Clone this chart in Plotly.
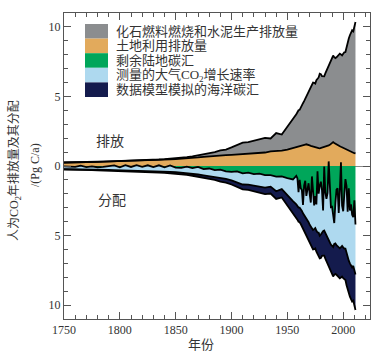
import plotly.graph_objects as go

# ---------------- data (Pg C / a) ----------------
years = [1750, 1755, 1760, 1765, 1770, 1775, 1780, 1785, 1790, 1795,
         1800, 1805, 1810, 1815, 1820, 1825, 1830, 1835, 1840, 1845,
         1850, 1855, 1860, 1865, 1870, 1875, 1880, 1885, 1890, 1895,
         1900, 1905, 1910, 1915, 1920, 1925, 1930, 1935, 1940, 1945,
         1950, 1955,
         1958, 1959, 1960, 1961, 1962, 1963, 1964, 1965, 1966, 1967,
         1968, 1969, 1970, 1971, 1972, 1973, 1974, 1975, 1976, 1977,
         1978, 1979, 1980, 1981, 1982, 1983, 1984, 1985, 1986, 1987,
         1988, 1989, 1990, 1991, 1992, 1993, 1994, 1995, 1996, 1997,
         1998, 1999, 2000, 2001, 2002, 2003, 2004, 2005, 2006, 2007,
         2008, 2009, 2010, 2011]

fossil = [0.003, 0.003, 0.003, 0.003, 0.004, 0.004, 0.005, 0.006, 0.007, 0.007,
          0.008, 0.009, 0.010, 0.012, 0.014, 0.017, 0.024, 0.027, 0.033, 0.042,
          0.054, 0.070, 0.091, 0.116, 0.147, 0.188, 0.236, 0.264, 0.356, 0.405,
          0.534, 0.663, 0.819, 0.836, 0.932, 0.983, 1.053, 0.929, 1.299, 1.160,
          1.630, 2.043,
          2.330, 2.454, 2.569, 2.580, 2.686, 2.833, 2.995, 3.130, 3.288, 3.393,
          3.566, 3.780, 4.053, 4.208, 4.376, 4.614, 4.623, 4.596, 4.864, 5.026,
          5.087, 5.369, 5.315, 5.152, 5.113, 5.094, 5.280, 5.439, 5.607, 5.752,
          5.965, 6.097, 6.127, 6.217, 6.164, 6.162, 6.266, 6.398, 6.542, 6.651,
          6.643, 6.610, 6.765, 6.927, 6.996, 7.416, 7.807, 8.093, 8.370, 8.566,
          8.783, 8.740, 9.167, 9.450]

land_use = [0.25, 0.25, 0.26, 0.27, 0.28, 0.29, 0.30, 0.31, 0.32, 0.33,
            0.34, 0.35, 0.36, 0.37, 0.38, 0.40, 0.42, 0.44, 0.46, 0.48,
            0.50, 0.52, 0.55, 0.58, 0.62, 0.66, 0.70, 0.73, 0.76, 0.78,
            0.80, 0.83, 0.86, 0.88, 0.90, 0.93, 0.97, 1.05, 1.07, 1.10,
            1.17, 1.30,
            1.38, 1.41, 1.44, 1.46, 1.48, 1.50, 1.52, 1.53, 1.54, 1.56,
            1.55, 1.52, 1.48, 1.45, 1.42, 1.39, 1.36, 1.33, 1.30, 1.29,
            1.28, 1.27, 1.29, 1.31, 1.33, 1.35, 1.38, 1.41, 1.44, 1.48,
            1.52, 1.58, 1.65, 1.72, 1.66, 1.60, 1.55, 1.50, 1.45, 1.42,
            1.38, 1.34, 1.30, 1.25, 1.20, 1.15, 1.10, 1.07, 1.03, 1.00,
            0.97, 0.94, 0.92, 0.90]

land_sink = [0.03, 0.06, 0.07, -0.02, 0.08, 0.03, 0.09, 0.06, 0.03, -0.04,
             0.09, -0.06, 0.07, -0.06, 0.06, -0.05, 0.08, -0.05, 0.10, -0.04,
             0.11, 0.13, 0.05, 0.15, 0.06, 0.22, 0.18, 0.29, 0.26, 0.38,
             0.42, 0.39, 0.53, 0.48, 0.58, 0.55, 0.65, 0.66, 0.77, 0.74,
             0.87, 0.97,
             0.71, 0.88, 1.89, 0.99, 1.59, 1.73, 2.80, 1.42, 1.06, 2.15,
             1.70, 1.24, 2.03, 2.63, 0.75, 2.10, 2.84, 2.16, 2.76, 0.38,
             1.99, 1.42, 1.13, 1.74, 3.19, 0.04, 1.92, 2.37, 1.93, -0.33,
             1.09, 2.96, 2.93, 3.62, 4.10, 2.66, 1.70, 1.60, 3.37, 1.72,
             -0.26, 2.85, 3.25, 2.04, 0.94, 1.47, 3.29, 1.61, 3.20, 2.75,
             3.50, 3.68, 2.47, 4.20]

atmos_growth = [0.20, 0.17, 0.16, 0.26, 0.17, 0.22, 0.18, 0.22, 0.25, 0.33,
                0.21, 0.36, 0.24, 0.38, 0.26, 0.40, 0.28, 0.44, 0.30, 0.46,
                0.33, 0.34, 0.46, 0.40, 0.55, 0.45, 0.56, 0.48, 0.62, 0.55,
                0.62, 0.78, 0.80, 0.86, 0.84, 0.92, 0.90, 0.82, 1.05, 0.92,
                1.25, 1.55,
                2.05, 2.00, 1.10, 2.00, 1.50, 1.50, 0.60, 2.10, 2.60, 1.60,
                2.20, 2.80, 2.20, 1.70, 3.70, 2.50, 1.70, 2.30, 1.90, 4.40,
                2.80, 3.60, 3.80, 3.00, 1.50, 4.60, 2.90, 2.60, 3.20, 5.60,
                4.40, 2.70, 2.80, 2.20, 1.50, 2.90, 4.00, 4.20, 2.50, 4.20,
                6.10, 2.90, 2.60, 3.90, 5.00, 4.80, 3.30, 5.20, 3.80, 4.40,
                3.80, 3.50, 5.10, 3.60]

ocean_sink = [0.02, 0.02, 0.03, 0.03, 0.03, 0.04, 0.04, 0.04, 0.05, 0.05,
              0.05, 0.06, 0.06, 0.06, 0.07, 0.07, 0.08, 0.08, 0.09, 0.10,
              0.11, 0.12, 0.13, 0.15, 0.16, 0.18, 0.20, 0.22, 0.24, 0.26,
              0.29, 0.32, 0.35, 0.38, 0.41, 0.44, 0.47, 0.50, 0.55, 0.60,
              0.68, 0.82,
              0.95, 0.98, 1.02, 1.05, 1.08, 1.10, 1.12, 1.14, 1.17, 1.20,
              1.22, 1.26, 1.30, 1.33, 1.35, 1.40, 1.44, 1.47, 1.50, 1.54,
              1.58, 1.62, 1.68, 1.72, 1.75, 1.80, 1.84, 1.88, 1.92, 1.96,
              2.00, 2.02, 2.05, 2.12, 2.22, 2.20, 2.12, 2.10, 2.12, 2.15,
              2.18, 2.20, 2.22, 2.24, 2.26, 2.30, 2.32, 2.35, 2.40, 2.42,
              2.45, 2.50, 2.52, 2.55]

legend_labels = ["化石燃料燃烧和水泥生产排放量", "土地利用排放量", "剩余陆地碳汇",
                 "测量的大气CO<sub>2</sub>增长速率", "数据模型模拟的海洋碳汇"]
x_ticks = [1750, 1800, 1850, 1900, 1950, 2000]
y_ticks = [-10, -5, 0, 5, 10]
y_ticktext = ["10", "5", "0", "5", "10"]

# ---------------- style ----------------
C_FOSSIL = "#8b8d8f"
C_LUC = "#e2aa5c"
C_LAND = "#00a65a"
C_ATM = "#aed9ef"
C_OCEAN = "#141b4d"
legend_colors = [C_FOSSIL, C_LUC, C_LAND, C_ATM, C_OCEAN]

SERIF = "Liberation Serif, Noto Sans CJK SC, serif"
CJK = "Liberation Serif, Noto Sans CJK SC, sans-serif"
LINE = dict(color="black", width=1.8)

fig = go.Figure()
fig.add_trace(go.Scatter(x=years, y=land_use, stackgroup="up", line=LINE,
                         fillcolor=C_LUC, mode="lines", showlegend=False))
fig.add_trace(go.Scatter(x=years, y=fossil, stackgroup="up", line=LINE,
                         fillcolor=C_FOSSIL, mode="lines", showlegend=False))
fig.add_trace(go.Scatter(x=years, y=[-v for v in land_sink], stackgroup="down", line=LINE,
                         fillcolor=C_LAND, mode="lines", showlegend=False))
fig.add_trace(go.Scatter(x=years, y=[-v for v in atmos_growth], stackgroup="down", line=LINE,
                         fillcolor=C_ATM, mode="lines", showlegend=False))
fig.add_trace(go.Scatter(x=years, y=[-v for v in ocean_sink], stackgroup="down", line=LINE,
                         fillcolor=C_OCEAN, mode="lines", showlegend=False))

W, H = 378, 356
L, R, T, B = 64, 8, 13, 37
pw, ph = W - L - R, H - T - B


def px(xp):
    return (xp - L) / pw


def py(yp):
    return (H - B - yp) / ph


shapes = []
annotations = []
sw_top, sw_h = 24.0, 14.6
for i, (col, lab) in enumerate(zip(legend_colors, legend_labels)):
    y0 = sw_top + i * sw_h
    shapes.append(dict(type="rect", xref="paper", yref="paper",
                       x0=px(85), x1=px(108), y0=py(y0 + sw_h), y1=py(y0),
                       fillcolor=col, line=dict(width=0), layer="above"))
    annotations.append(dict(xref="paper", yref="paper", x=px(114), y=py(y0 + sw_h / 2),
                            xanchor="left", yanchor="middle", showarrow=False, text=lab,
                            font=dict(family=CJK, size=13, color="#333")))


def label(x, y, text, size=13, family=CJK, angle=0):
    return dict(xref="paper", yref="paper", x=px(x), y=py(y), text=text, showarrow=False,
                xanchor="center", yanchor="middle", textangle=angle,
                font=dict(family=family, size=size, color="#333"))


annotations += [
    label(110, 141, "排放", size=14),
    label(112, 200, "分配", size=14),
    label(15, 171, "人为CO<sub>2</sub>年排放量及其分配", size=12, angle=-90),
    label(35, 165, "/(Pg C/a)", size=12, family=SERIF, angle=-90),
    label(201, 344, "年份", size=13),
]

axis_common = dict(showline=True, linecolor="#555", linewidth=1, mirror="ticks",
                   ticks="inside", tickcolor="#555", ticklen=7, tickwidth=1,
                   showgrid=False, tickfont=dict(family=SERIF, size=12, color="#333"))

fig.update_layout(
    width=W, height=H,
    margin=dict(l=L, r=R, t=T, b=B),
    paper_bgcolor="white", plot_bgcolor="white",
    showlegend=False,
    shapes=shapes, annotations=annotations,
    xaxis=dict(range=[1750, 2024], tickvals=x_ticks, zeroline=False,
               minor=dict(dtick=10, tick0=1750, ticks="inside", ticklen=4,
                          tickcolor="#555", showgrid=False),
               **axis_common),
    yaxis=dict(range=[-11, 11], tickvals=y_ticks, ticktext=y_ticktext,
               zeroline=True, zerolinecolor="#888", zerolinewidth=1,
               minor=dict(dtick=1, tick0=0, ticks="inside", ticklen=4,
                          tickcolor="#555", showgrid=False),
               **axis_common),
)

fig.write_html("out.html", config={"displayModeBar": False},
               post_script="document.body.style.margin='0';document.body.style.padding='0';")
